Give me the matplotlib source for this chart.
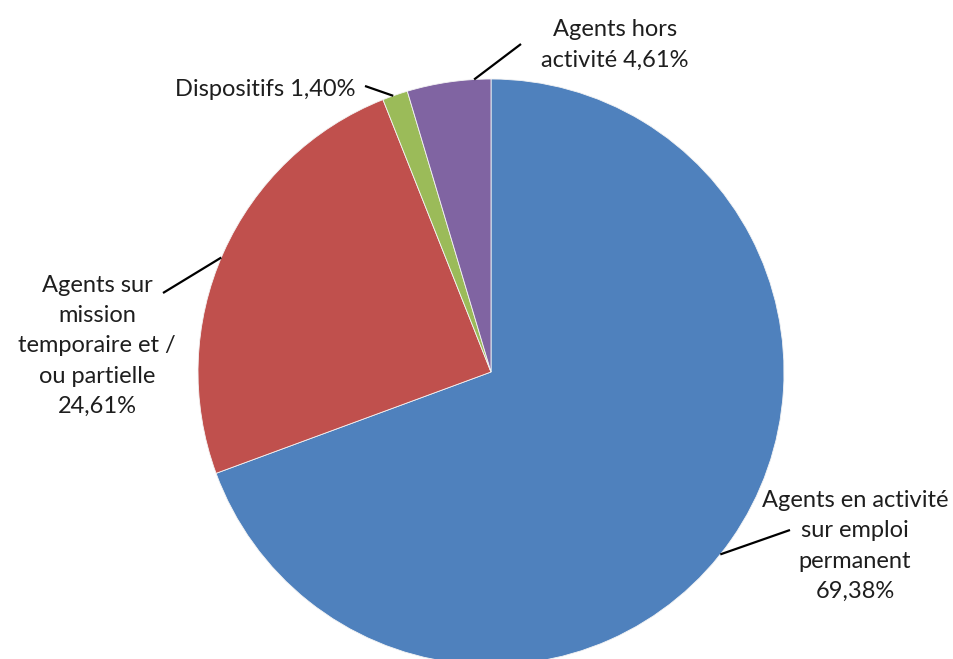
import numpy as np
import matplotlib.pyplot as plt

# ----------------------------
# Data
# ----------------------------
labels = [
    "Agents en activité\nsur emploi\npermanent",
    "Agents sur\nmission\ntemporaire et /\nou partielle",
    "Dispositifs",
    "Agents hors\nactivité",
]
values = [69.38, 24.61, 1.40, 4.61]
colors = ["#4F81BD", "#C0504D", "#9BBB59", "#8064A2"]

plt.rcParams["font.family"] = ["Lato", "DejaVu Sans"]

# ----------------------------
# Figure in pixel-like coordinates (y up)
# ----------------------------
W, H = 954, 659
fig = plt.figure(figsize=(W / 100, H / 100), dpi=100)
ax = fig.add_axes([0, 0, 1, 1])

cx, cy, r = 491, H - 372, 293
wedges, _ = ax.pie(
    values, colors=colors, startangle=90, counterclock=False,
    center=(cx, cy), radius=r, frame=True,
    wedgeprops=dict(edgecolor="#f4f4f4", linewidth=0.6),
)
ax.set_xlim(0, W)
ax.set_ylim(0, H)
ax.set_aspect("equal")
ax.axis("off")


def fmt(v):
    return f"{v:.2f}".replace(".", ",") + "%"


def edge_point(angle_deg):
    a = np.deg2rad(angle_deg)
    return cx + r * np.cos(a), cy + r * np.sin(a)


# label text, anchor angle on the rim, line end and text position
label_texts = [
    labels[0] + "\n" + fmt(values[0]),
    labels[1] + "\n" + fmt(values[1]),
    labels[2] + " " + fmt(values[2]),
    labels[3] + " " + fmt(values[3]),
]
anchors = [-38.5, 157.0, 109.5, 93.3]
line_ends = [(790, H - 530), (163, H - 293), (365, H - 86), (521, H - 44)]
text_pos = [(855, H - 546), (97, H - 346), (265, H - 90), (615, H - 45)]

for txt, ang, end, pos in zip(label_texts, anchors, line_ends, text_pos):
    x0, y0 = edge_point(ang)
    ax.plot([x0, end[0]], [y0, end[1]], color="black", lw=1.6,
            solid_capstyle="butt")
    ax.text(pos[0], pos[1], txt, ha="center", va="center", fontsize=17,
            color="#1e1e1e", linespacing=1.55)

fig.savefig("out.png", dpi=100)
